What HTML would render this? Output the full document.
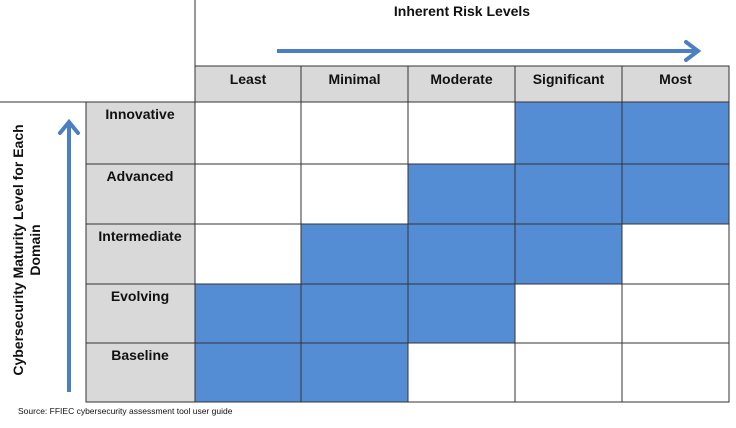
<!DOCTYPE html>
<html><head><meta charset="utf-8"><style>
body{margin:0;background:#fff;font-family:"Liberation Sans",Arial,sans-serif}
svg text{font-family:"Liberation Sans",Arial,sans-serif;font-weight:bold;fill:#111}
</style></head><body>
<svg width="736" height="423" viewBox="0 0 736 423">
<defs><marker id="ah" markerWidth="10" markerHeight="10" refX="5" refY="5" orient="auto" markerUnits="userSpaceOnUse" viewBox="0 0 10 10">
<path d="M1 1 L6 5 L1 9" fill="none" stroke="#4a7fc1" stroke-width="1.6" stroke-linecap="round"/></marker></defs>
<text x="462" y="16" font-size="14" text-anchor="middle">Inherent Risk Levels</text>
<line x1="277" y1="51" x2="697" y2="51" stroke="#4a7fc1" stroke-width="4"/>
<path d="M686 42 L698 51 L686 60" fill="none" stroke="#4a7fc1" stroke-width="4" stroke-linecap="round"/>
<line x1="69" y1="392" x2="69" y2="124" stroke="#4a7fc1" stroke-width="4"/>
<path d="M60 133 L69 122 L78 133" fill="none" stroke="#4a7fc1" stroke-width="4" stroke-linecap="round"/>
<text transform="translate(27,250) rotate(-90)" font-size="14" text-anchor="middle"><tspan x="0" dy="-4">Cybersecurity Maturity Level for Each</tspan><tspan x="0" dy="17">Domain</tspan></text>
<line x1="195" y1="0" x2="195" y2="66" stroke="#333" stroke-width="1"/>
<line x1="0" y1="102" x2="195" y2="102" stroke="#333" stroke-width="1"/>
<g id="grid"></g>
<text x="18" y="414" font-size="8.5" style="font-weight:normal">Source: FFIEC cybersecurity assessment tool user guide</text>
</svg>
<script>
const riskLevels=["Least","Minimal","Moderate","Significant","Most"];
const maturityLevels=["Innovative","Advanced","Intermediate","Evolving","Baseline"];
const filledCols=[[3,4],[2,3,4],[1,2,3],[0,1,2],[0,1]];
const colX=[195,301,408,515,622,729];
const rowY=[102,164,224,284,343,402];
const g=document.getElementById('grid');
const NS='http://www.w3.org/2000/svg';
function mk(t,a){const e=document.createElementNS(NS,t);for(const k in a)e.setAttribute(k,a[k]);g.appendChild(e);return e;}
riskLevels.forEach((r,i)=>{
 const c=mk('rect',{x:colX[i],y:66,width:colX[i+1]-colX[i],height:36,fill:'#d9d9d9',stroke:'#333','stroke-width':1});
 
 
 const t=mk('text',{x:(colX[i]+colX[i+1])/2,y:84,'font-size':14,'text-anchor':'middle'});
 
 
 t.textContent=r;
});
maturityLevels.forEach((m,j)=>{
 const c=mk('rect',{x:86,y:rowY[j],width:109,height:rowY[j+1]-rowY[j],fill:'#d9d9d9',stroke:'#333','stroke-width':1});
 
 
 const t=mk('text',{x:140,y:rowY[j]+17,'font-size':14,'text-anchor':'middle'});
 
 
 t.textContent=m;
 riskLevels.forEach((r,i)=>{
  const on=filledCols[j].includes(i);
  const c2=mk('rect',{x:colX[i],y:rowY[j],width:colX[i+1]-colX[i],height:rowY[j+1]-rowY[j],fill:on?'#548dd4':'#fff',stroke:'#333','stroke-width':1});
  
  
 });
});
</script>
</body></html>
